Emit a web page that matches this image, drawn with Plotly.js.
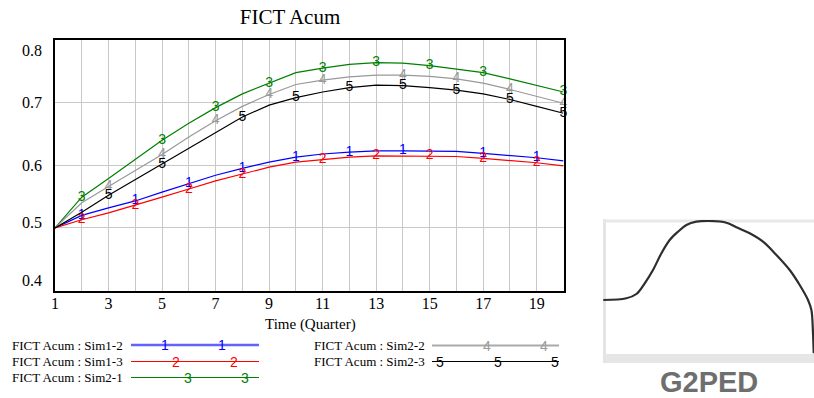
<!DOCTYPE html>
<html><head><meta charset="utf-8">
<script src="https://cdn.plot.ly/plotly-3.0.1.min.js"></script>
<style>html,body{margin:0;padding:0;background:#fff;}#chart{width:814px;height:398px;}</style>
</head><body><div id="chart"></div>
<script>
// ---- data ----
const time = [1,2,3,4,5,6,7,8,9,10,11,12,13,14,15,16,17,18,19,20];
const sim1_2 = [0.500,0.520,0.532,0.543,0.557,0.571,0.584,0.595,0.605,0.613,0.618,0.621,0.623,0.623,0.623,0.622,0.619,0.616,0.612,0.607];
const sim1_3 = [0.500,0.513,0.524,0.536,0.549,0.562,0.575,0.586,0.597,0.605,0.609,0.613,0.615,0.615,0.615,0.614,0.611,0.608,0.604,0.599];
const sim2_1 = [0.500,0.549,0.579,0.610,0.640,0.667,0.692,0.714,0.731,0.748,0.755,0.761,0.764,0.763,0.759,0.754,0.748,0.738,0.728,0.717];
const sim2_2 = [0.500,0.540,0.566,0.592,0.617,0.645,0.671,0.694,0.713,0.729,0.736,0.741,0.744,0.744,0.742,0.738,0.731,0.721,0.710,0.699];
const sim2_3 = [0.500,0.525,0.552,0.577,0.601,0.627,0.652,0.677,0.696,0.708,0.717,0.724,0.728,0.727,0.724,0.720,0.714,0.705,0.694,0.683];
const seriesNames = ['FICT Acum : Sim1-2','FICT Acum : Sim1-3','FICT Acum : Sim2-1','FICT Acum : Sim2-2','FICT Acum : Sim2-3'];
const seriesDigits = ['1','2','3','4','5'];
const markTimes1 = [2,4,6,8,10,12,14,17,19];
const markTimes2 = [2,4,6,8,11,13,15,17,19];
const markTimes3 = [2,5,7,9,11,13,15,17,20];
const markTimes4 = [3,5,7,9,11,14,16,18,20];
const markTimes5 = [3,5,8,10,12,14,16,18,20];
const xTickVals = [1,3,5,7,9,11,13,15,17,19];
const yTickVals = [0.4,0.5,0.6,0.7,0.8];
const chartTitle = 'FICT Acum';
const xTitle = 'Time (Quarter)';
// thumbnail lookup graph (G2PED)
const g2pedLabel = 'G2PED';
const g2pedX = [0.3,23.4,33.4,41.7,50,58.4,66.7,75,83.4,93.4,106.7,123.4,133.4,146.7,160,173.4,186.7,196.7,205,208.4,210,210.7];
const g2pedY = [56.7,58.4,62.7,73.4,86.7,103.4,116.7,125,131.7,135,135.7,134,129.4,123.4,115,101.7,86.7,71.7,56.7,46.7,23.4,3.4];

// ---- styling ----
const W = 814, H = 398;
const px = x => x / W, py = y => 1 - y / H;
const colors = ['#0000ff','#ff0000','#008000','#999999','#000000'];
const serif = '"Liberation Serif","Times New Roman",Times,serif';
const sans = '"Liberation Sans",Arial,sans-serif';
const allSeries = [sim1_2, sim1_3, sim2_1, sim2_2, sim2_3];
const allMarks = [markTimes1, markTimes2, markTimes3, markTimes4, markTimes5];

const traces = allSeries.map((ys, i) => ({
  x: time, y: ys, name: seriesNames[i], type: 'scatter', mode: 'lines+text',
  line: {color: colors[i], width: 1.2},
  text: time.map(t => allMarks[i].includes(t) ? seriesDigits[i] : ''),
  textposition: 'middle center',
  textfont: {family: sans, size: 14, color: colors[i]},
  cliponaxis: false, showlegend: false, hoverinfo: 'skip'
}));
traces.push({
  x: g2pedX, y: g2pedY, xaxis: 'x2', yaxis: 'y2', type: 'scatter', mode: 'lines',
  line: {color: '#2e2e2e', width: 2.2, shape: 'spline'}, showlegend: false, hoverinfo: 'skip'
});

// custom legend
const shapes = [];
const annotations = [];
const legendItems = [
  {i:0, tx:10, lx0:131, lx1:259, y:345, w:2.5, c:'#6262ff', digits:[165,222]},
  {i:1, tx:10, lx0:131, lx1:259, y:361.5, w:1.2, c:'#ff0000', digits:[176,234]},
  {i:2, tx:10, lx0:131, lx1:259, y:377.5, w:1.2, c:'#008000', digits:[188,245]},
  {i:3, tx:312, lx0:432, lx1:559, y:345.5, w:2, c:'#aaaaaa', digits:[487,544]},
  {i:4, tx:312, lx0:432, lx1:559, y:361.5, w:1.2, c:'#000000', digits:[440,498,555]}
];
legendItems.forEach(it => {
  annotations.push({xref:'paper', yref:'paper', x:px(it.tx), y:py(it.y), xanchor:'left', yanchor:'middle',
    text: seriesNames[it.i], showarrow:false, font:{family:serif, size:13, color:'#000'}});
  shapes.push({type:'line', xref:'paper', yref:'paper', x0:px(it.lx0), x1:px(it.lx1), y0:py(it.y), y1:py(it.y),
    line:{color:it.c, width:it.w}});
  it.digits.forEach(dx => annotations.push({xref:'paper', yref:'paper', x:px(dx), y:py(it.y), xanchor:'center', yanchor:'middle',
    text: seriesDigits[it.i], showarrow:false, font:{family:sans, size:14, color:colors[it.i]}}));
});
// y tick labels (placed like the original: kept inside the axis extent)
const yLabelShift = {0.4: 10, 0.5: 5, 0.6: 0, 0.7: 0, 0.8: -10};
yTickVals.forEach(v => annotations.push({xref:'paper', yref:'y', x:px(44), y:v, xanchor:'right', yanchor:'middle',
  yshift: yLabelShift[v], text: v.toFixed(1), showarrow:false, font:{family:serif, size:16, color:'#000'}}));
// x axis title
annotations.push({xref:'paper', yref:'paper', x:px(310), y:py(324), xanchor:'center', yanchor:'middle',
  text: xTitle, showarrow:false, font:{family:serif, size:15, color:'#000'}});
// thumbnail box & label
shapes.push({type:'rect', xref:'paper', yref:'paper', x0:px(603), x1:px(820), y0:py(354), y1:py(363), fillcolor:'#e6e6e6', line:{width:0}, layer:'below'});
shapes.push({type:'line', xref:'paper', yref:'paper', x0:px(604.5), x1:px(604.5), y0:py(219), y1:py(363), line:{color:'#e4e4e4', width:3}, layer:'below'});
shapes.push({type:'line', xref:'paper', yref:'paper', x0:px(603), x1:px(820), y0:py(221), y1:py(221), line:{color:'#e8e8e8', width:3}, layer:'below'});
annotations.push({xref:'paper', yref:'paper', x:px(709), y:py(382), xanchor:'center', yanchor:'middle',
  text: g2pedLabel, showarrow:false, font:{family:sans, size:29, weight:'bold', color:'#6e6e6e'}});

const layout = {
  width: W, height: H, margin: {l:0, r:0, t:0, b:0},
  paper_bgcolor: '#fff', plot_bgcolor: '#fff',
  title: {text: chartTitle, x: px(290), y: py(17), xanchor:'center', yanchor:'middle', xref:'paper', yref:'paper',
    font: {family: serif, size: 21, color: '#000'}},
  xaxis: {domain: [px(55), px(563.5)], range: [1, 20], tickmode: 'array', tickvals: xTickVals,
    showgrid: true, gridcolor: '#c8c8c8', gridwidth: 1, zeroline: false,
    minor: {tickmode:'linear', tick0: 1, dtick: 1, showgrid: true, gridcolor: '#c8c8c8', gridwidth: 1},
    showline: true, mirror: true, linecolor: '#000', linewidth: 2, ticks: '',
    tickfont: {family: serif, size: 16, color: '#000'}, ticklabelstandoff: -3},
  yaxis: {domain: [py(290.5), py(40)], range: [0.4, 0.8], tickmode: 'array', tickvals: yTickVals,
    showticklabels: false,
    showgrid: true, gridcolor: '#c8c8c8', gridwidth: 1, zeroline: false,
    showline: true, mirror: true, linecolor: '#000', linewidth: 2, ticks: ''},
  xaxis2: {domain: [px(603), 1], range: [0, 211], visible: false, fixedrange: true},
  yaxis2: {domain: [py(356.7), py(220)], range: [0, 136.7], visible: false, fixedrange: true},
  shapes: shapes, annotations: annotations, showlegend: false
};
Plotly.newPlot('chart', traces, layout, {displayModeBar: false, staticPlot: true});
</script></body></html>
